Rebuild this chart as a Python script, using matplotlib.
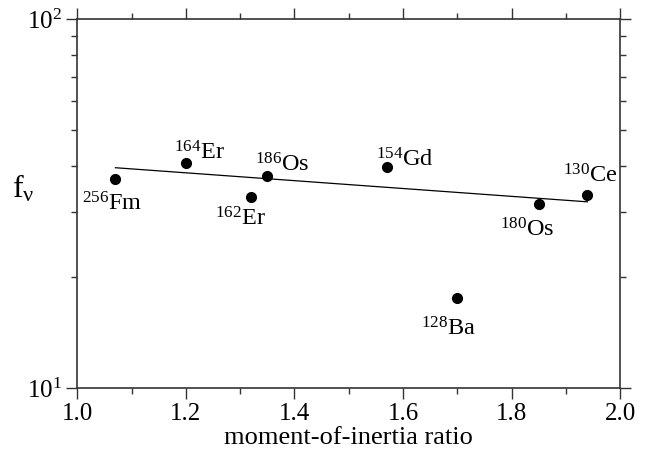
import matplotlib
matplotlib.use("Agg")
import matplotlib.pyplot as plt
from matplotlib.ticker import NullFormatter, LogLocator, MultipleLocator, FixedLocator

plt.rcParams['font.family'] = ['Liberation Serif', 'DejaVu Serif']
plt.rcParams['mathtext.fontset'] = 'custom'
plt.rcParams['mathtext.rm'] = 'Liberation Serif'
plt.rcParams['mathtext.it'] = 'Liberation Serif:italic'
plt.rcParams['mathtext.bf'] = 'Liberation Serif:bold'

# data
mass_numbers = ['256', '164', '186', '162', '154', '180', '130', '128']
elements = ['Fm', 'Er', 'Os', 'Er', 'Gd', 'Os', 'Ce', 'Ba']
ratio = [1.07, 1.20, 1.35, 1.32, 1.57, 1.85, 1.94, 1.70]
f_nu = [36.8, 40.7, 37.5, 33.0, 39.7, 31.6, 33.4, 17.5]
fit_x = [1.07, 1.94]
fit_y = [39.6, 32.0]

# label offsets in pixels (left edge, baseline) relative to the point
label_offsets = [(-33, -31), (-12, 4), (-12, 5), (-36, -29), (-11, 1), (-39, -33), (-24, 12), (-36, -37)]

fig = plt.figure(figsize=(6.62, 4.57), dpi=100)
ax = fig.add_axes([0.117, 0.151, 0.8196, 0.8064])

ax.set_yscale('log')
ax.set_xlim(1.0, 2.0)
ax.set_ylim(10, 100)

ax.plot(fit_x, fit_y, color='black', lw=0.9)
ax.plot(ratio, f_nu, 'o', color='black', ms=7, mec='black')

for m, el, x, y, off in zip(mass_numbers, elements, ratio, f_nu, label_offsets):
    ax.annotate(r'$^{%s}$%s' % (m, el), xy=(x, y), xytext=off, textcoords='offset pixels',
                ha='left', va='baseline', fontsize=17.5)

ax.xaxis.set_major_locator(MultipleLocator(0.2))
ax.xaxis.set_minor_locator(MultipleLocator(0.1))
ax.xaxis.set_major_formatter(matplotlib.ticker.FormatStrFormatter('%.1f'))
ax.yaxis.set_major_locator(FixedLocator([10, 100]))
ax.yaxis.set_minor_locator(LogLocator(base=10, subs=range(2, 10)))
ax.yaxis.set_minor_formatter(NullFormatter())

ax.tick_params(which='both', direction='out', top=True, right=True, labelsize=18, color='#333333')
ax.tick_params(which='major', length=8, width=1.0, pad=3)
ax.tick_params(which='minor', length=4, width=1.0)
for s in ax.spines.values():
    s.set_linewidth(1.2)
    s.set_color('#333333')

ax.set_xlabel('moment-of-inertia ratio', fontsize=19, labelpad=1)
ax.set_ylabel(r'f$_{\mathrm{ν}}$', fontsize=23, rotation=0, ha='left', va='center')
ax.yaxis.set_label_coords(-0.12, 0.54)

fig.savefig('out.png', dpi=100)
